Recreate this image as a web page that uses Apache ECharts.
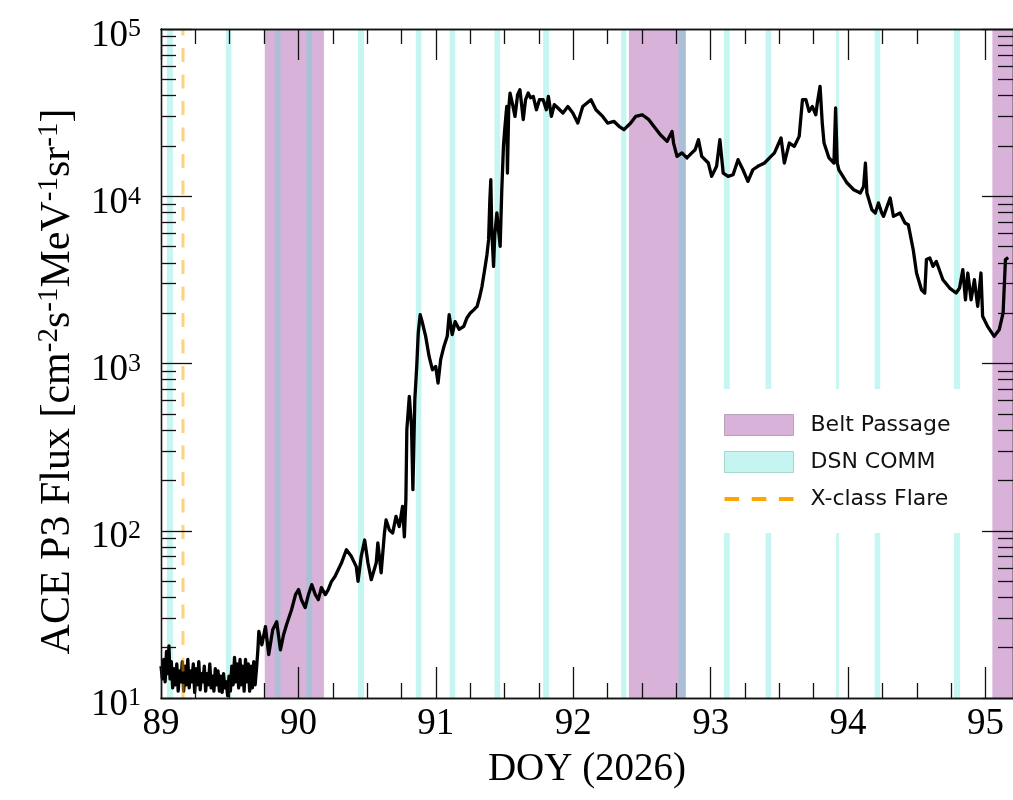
<!DOCTYPE html>
<html><head><meta charset="utf-8">
<script src="https://cdn.jsdelivr.net/npm/echarts@6/dist/echarts.min.js"></script>
<style>html,body{margin:0;padding:0;background:#fff}
#c,#t{position:absolute;left:0;top:0;width:1013px;height:800px}
#t{pointer-events:none;z-index:2}</style>
</head><body><div id="c"></div><div id="t"></div>
<script>
// ---- data ----
const doy = [
89.000,89.010,89.020,89.030,89.040,89.050,89.058,89.066,89.075,89.085,
89.095,89.105,89.115,89.125,89.135,89.145,89.155,89.165,89.175,89.185,
89.195,89.205,89.215,89.225,89.235,89.245,89.255,89.265,89.275,89.285,
89.295,89.305,89.315,89.325,89.335,89.345,89.355,89.365,89.375,89.385,
89.395,89.405,89.415,89.425,89.435,89.445,89.455,89.465,89.475,89.485,
89.495,89.505,89.515,89.525,89.535,89.545,89.555,89.565,89.575,89.585,
89.595,89.605,89.615,89.625,89.635,89.645,89.655,89.665,89.675,89.685,
89.695,89.705,
89.712,89.734,89.760,89.784,89.813,89.842,89.869,89.892,89.914,
89.950,89.979,90.001,90.022,90.049,90.073,90.097,90.123,90.145,90.167,
90.196,90.217,90.239,
90.266,90.313,90.349,90.385,90.421,90.434,90.457,90.482,90.506,90.530,
90.566,90.578,90.602,90.626,90.638,90.662,90.686,90.710,90.734,90.758,
90.771,90.782,90.789,90.807,90.823,90.833,90.847,90.861,90.872,90.886,
90.903,90.926,90.951,90.975,90.999,91.016,91.035,91.059,91.083,
91.097,91.119,91.140,91.170,91.203,91.227,91.251,91.278,91.300,91.321,
91.336,91.359,91.372,91.384,91.393,91.400,91.407,91.420,91.429,91.444,
91.468,91.480,91.492,91.501,91.516,91.521,91.530,91.540,91.559,91.576,
91.595,91.612,91.636,91.653,91.672,91.689,91.709,91.732,91.754,91.781,
91.804,91.819,91.841,91.862,91.877,
91.925,91.961,91.997,92.033,92.069,92.129,92.165,92.214,92.250,92.297,
92.333,92.369,92.418,92.454,92.502,92.550,92.586,92.634,92.683,92.719,
92.730,92.755,92.791,92.827,92.863,92.887,92.911,92.935,92.983,93.007,
93.043,93.067,93.091,93.127,93.163,93.199,93.235,93.271,93.307,93.343,
93.392,93.428,93.464,93.512,93.536,93.572,93.608,93.644,93.668,93.693,
93.716,93.740,93.765,93.776,93.796,93.812,93.825,93.861,93.897,93.909,
93.921,93.933,93.993,94.041,94.089,94.113,94.126,94.137,94.173,94.198,
94.221,94.245,94.258,94.306,94.330,94.378,94.414,94.438,94.474,94.498,
94.534,94.558,94.570,94.595,94.618,94.642,94.690,94.739,94.786,94.811,
94.835,94.854,94.871,94.895,94.919,94.943,94.967,94.979,95.015,95.063,
95.100,95.128,95.145,95.165
];
const flux = [
15.5,13.0,17.0,12.5,19.0,14.0,20.5,13.0,16.5,11.5,
15.0,12.0,16.0,11.0,14.5,12.5,16.5,11.0,15.5,12.0,
17.0,11.5,14.5,12.5,16.0,10.8,15.0,12.0,16.5,11.2,
14.0,12.5,15.5,11.0,14.0,12.0,16.0,11.5,13.5,11.0,
15.0,12.0,14.5,11.0,13.5,10.8,14.0,11.5,12.5,10.3,
13.5,11.0,15.5,12.0,17.5,12.5,16.0,11.5,17.0,12.0,
15.5,11.0,17.0,12.5,16.0,11.0,15.5,11.5,16.5,12.0,
15.0,19.4,
25.0,20.8,26.7,18.2,25.6,28.6,19.4,23.9,27.5,
33.7,41.5,44.5,38.7,34.7,41.5,47.6,41.5,38.7,45.7,
41.5,44.5,49.5,
53.3,64.1,77,70.3,61,49.8,70.3,88,64.1,51,
64.1,84.5,56,97,116,101,97,122,106,140,
92,153,402,636,421,176,607,961,1521,1958,
1746,1453,1102,918,961,764,1054,1265,1453,
1958,1490,1780,1600,1667,1879,2005,2100,2193,2541,
2892,3807,4473,5500,9530,12550,6310,3807,5890,7940,
5010,10940,19860,25000,34400,13770,32900,41400,35270,30000,
40460,43400,28700,37800,41400,38830,39500,32900,37800,37800,
32900,39500,30000,35270,34400,
31450,34400,31450,27400,34400,37800,32900,30000,27400,28000,
26200,25000,27400,30000,30700,28700,26200,23300,21300,24400,
20800,17300,18150,16940,18150,18970,21800,17300,15800,13150,
15100,21800,13770,13150,13450,16550,14400,12270,14400,15100,
15800,16940,18150,22300,15800,20800,19860,22800,37800,37800,
32200,34400,30700,36100,45400,27400,20800,16940,15800,33700,
15800,14400,12000,10940,10450,11450,15800,10450,8310,7940,
9120,7940,7580,9770,7580,7940,6920,6760,4790,3475,
2760,2640,4180,4275,3810,4075,3170,2825,2640,2825,
3640,2405,3475,2405,3170,2195,3475,1914,1667,1453,
1592,2005,4180,4300
];
const beltPassages = [[89.755, 90.186], [92.405, 92.82], [95.05, 95.2]];
const dsnComm = [[89.043,89.087],[89.472,89.512],[89.828,89.869],[90.058,90.100],
  [90.434,90.477],[90.854,90.895],[91.100,91.141],[91.427,91.468],[91.781,91.824],
  [92.348,92.387],[92.766,92.815],[93.096,93.139],[93.399,93.440],[93.913,93.933],
  [94.193,94.234],[94.770,94.815]];
const flareDoy = [89.16];
const xMajorTicks = [89, 90, 91, 92, 93, 94, 95];
const xMinorTicks = [89.25,89.5,89.75,90.25,90.5,90.75,91.25,91.5,91.75,92.25,92.5,92.75,
  93.25,93.5,93.75,94.25,94.5,94.75];
const yMajorTicks = [10, 100, 1000, 10000, 100000];
const yMinorTicks = [20,30,40,50,60,70,80,90,200,300,400,500,600,700,800,900,
  2000,3000,4000,5000,6000,7000,8000,9000,20000,30000,40000,50000,60000,70000,80000,90000];
const legendNames = ['Belt Passage', 'DSN COMM', 'X-class Flare'];

// ---- shared layout ----
const SERIF = 'Liberation Serif';
const X_MIN = 89, X_MAX = 95.2, Y_MIN = 10, Y_MAX = 100000;
const GRID = { left: 161, top: 29, width: 859, height: 669 };
function ls() { return { color: '#111', width: 1.3 }; }
function rich(main, sup, padMain, padSup) {
  return {
    b: { fontFamily: SERIF, fontSize: main, lineHeight: main, color: '#000', padding: [padMain, 0, 0, 0] },
    s: { fontFamily: SERIF, fontSize: sup, lineHeight: sup, color: '#000', verticalAlign: 'top', padding: [padSup, 0, 0, 0] }
  };
}

// ---- transparent overlay chart (set up first): mirrored inward major/minor ticks ----
function tx(pos, ticks, len, line) {
  return { type: 'value', position: pos, min: X_MIN, max: X_MAX,
    axisLine: { show: line, onZero: false, lineStyle: ls() },
    axisTick: { show: true, inside: true, length: len, customValues: ticks.slice(), lineStyle: ls() },
    axisLabel: { show: false }, splitLine: { show: false } };
}
function ty(pos, ticks, len, line) {
  return { type: 'log', position: pos, min: Y_MIN, max: Y_MAX,
    axisLine: { show: line, onZero: false, lineStyle: ls() },
    axisTick: { show: true, inside: true, length: len, customValues: ticks.slice(), lineStyle: ls() },
    axisLabel: { show: false }, splitLine: { show: false } };
}
try {
  const tickChart = echarts.init(document.getElementById('t'), null, { renderer: 'canvas' });
  tickChart.setOption({
    animation: false,
    grid: Object.assign({}, GRID),
    xAxis: [tx('bottom', xMajorTicks, 31, true), tx('bottom', xMinorTicks, 15, false),
            tx('top', xMajorTicks, 31, true), tx('top', xMinorTicks, 15, false)],
    yAxis: [ty('left', yMajorTicks, 31, true), ty('left', yMinorTicks, 15, false),
            ty('right', yMajorTicks, 31, true), ty('right', yMinorTicks, 15, false)],
    series: [{ type: 'line', xAxisIndex: 0, yAxisIndex: 0, silent: true, symbol: 'none',
               data: doy.map((d, i) => [d, flux[i]]), lineStyle: { opacity: 0 } }]
  });
} catch (e) { console.error(e); }

// ---- main chart: data, bands, labels, names, legend ----
function baseX(pos) {
  return { type: 'value', position: pos, min: X_MIN, max: X_MAX, z: 20,
    axisLine: { show: true, onZero: false, lineStyle: ls() },
    axisTick: { show: false }, axisLabel: { show: false }, splitLine: { show: false } };
}
function baseY(pos) {
  return { type: 'log', position: pos, min: Y_MIN, max: Y_MAX, z: 20,
    axisLine: { show: true, onZero: false, lineStyle: ls() },
    axisTick: { show: false }, axisLabel: { show: false }, splitLine: { show: false } };
}
const xAxes = [baseX('bottom'), baseX('top')];
xAxes[0].axisLabel = { show: true, customValues: xMajorTicks.slice(), fontFamily: SERIF, fontSize: 37, color: '#000', margin: 8 };
xAxes[0].name = 'DOY (2026)';
xAxes[0].nameLocation = 'middle';
xAxes[0].nameGap = 52;
xAxes[0].nameTextStyle = { fontFamily: SERIF, fontSize: 39, color: '#000' };

const yAxes = [baseY('left'), baseY('right')];
yAxes[0].axisLabel = {
  show: true, customValues: yMajorTicks.slice(), margin: 20,
  formatter: v => '{b|10}{s|' + Math.round(Math.log10(v)) + '}',
  rich: rich(37, 26, 14, 6)
};
yAxes[0].name = '{b|ACE P3 Flux [cm}{s|-2}{b|s}{s|-1}{b|MeV}{s|-1}{b|sr}{s|-1}{b|]}';
yAxes[0].nameLocation = 'middle';
yAxes[0].nameRotate = 90;
yAxes[0].nameGap = 90;
yAxes[0].nameTextStyle = { rich: rich(42, 29, 15, 6), padding: [0, 36, 0, 0] };

const option = {
  animation: false,
  backgroundColor: '#fff',
  grid: Object.assign({}, GRID),
  xAxis: xAxes,
  yAxis: yAxes,
  legend: {
    orient: 'vertical', left: 712, top: 389, padding: [25, 19, 23, 12],
    itemGap: 15, itemWidth: 69, itemHeight: 21, backgroundColor: '#fff', borderWidth: 0,
    selectedMode: false, z: 30,
    textStyle: { fontFamily: 'DejaVu Sans', fontSize: 22, color: '#111', padding: [0, 0, 0, 12] },
    data: [
      { name: legendNames[0], icon: 'rect', itemStyle: { color: '#D9B2D9', borderColor: '#b9a1b9', borderWidth: 1 } },
      { name: legendNames[1], icon: 'rect', itemStyle: { color: '#C6F5F1', borderColor: '#a7d6cf', borderWidth: 1 } },
      { name: legendNames[2], icon: 'path://M0,0h29v8h-29z M54,0h29v8h-29z M108,0h29v8h-29z',
        itemStyle: { color: '#FFA500', borderWidth: 0 } }
    ]
  },
  series: [
    {
      name: 'ACE P3', type: 'line', xAxisIndex: 0, yAxisIndex: 0, z: 2,
      data: doy.map((d, i) => [d, flux[i]]),
      symbol: 'none', lineStyle: { color: '#000', width: 3.3, join: 'round' }, itemStyle: { color: '#000' }
    },
    {
      name: legendNames[2], type: 'line', xAxisIndex: 0, yAxisIndex: 0, z: 3,
      data: [[flareDoy[0], Y_MIN], [flareDoy[0], Y_MAX]],
      symbol: 'none',
      lineStyle: { color: 'rgba(255,165,0,0.5)', width: 3, type: [14, 12.5] },
      itemStyle: { color: 'rgba(255,165,0,0.5)' }
    },
    {
      name: legendNames[0], type: 'line', xAxisIndex: 0, yAxisIndex: 0, z: 5, data: [],
      itemStyle: { color: 'rgba(128,0,128,0.3)' }, lineStyle: { color: 'rgba(128,0,128,0.3)' },
      markArea: { silent: true, itemStyle: { color: 'rgba(128,0,128,0.3)' },
        data: beltPassages.map(b => [{ xAxis: b[0], yAxis: Y_MIN }, { xAxis: b[1], yAxis: Y_MAX }]) }
    },
    {
      name: legendNames[1], type: 'line', xAxisIndex: 0, yAxisIndex: 0, z: 6, data: [],
      itemStyle: { color: 'rgba(64,224,208,0.3)' }, lineStyle: { color: 'rgba(64,224,208,0.3)' },
      markArea: { silent: true, itemStyle: { color: 'rgba(64,224,208,0.3)' },
        data: dsnComm.map(b => [{ xAxis: b[0], yAxis: Y_MIN }, { xAxis: b[1], yAxis: Y_MAX }]) }
    }
  ]
};
try {
  const chart = echarts.init(document.getElementById('c'), null, { renderer: 'canvas' });
  chart.setOption(option);
} catch (e) { console.error(e); }
</script></body></html>
